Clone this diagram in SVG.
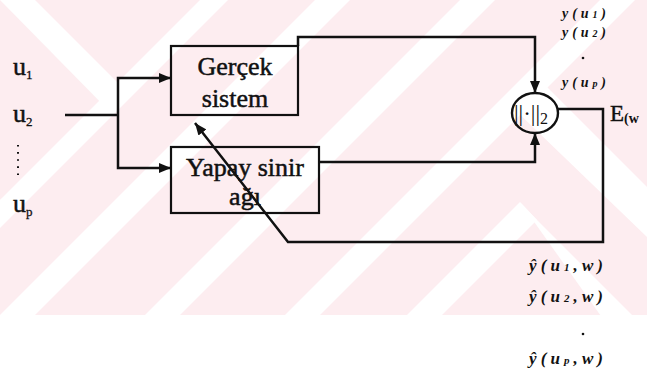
<svg xmlns="http://www.w3.org/2000/svg" width="647" height="373" viewBox="0 0 647 373">
  <defs>
    <marker id="arrow" viewBox="0 0 12 10" refX="12" refY="5" markerWidth="12" markerHeight="10" markerUnits="userSpaceOnUse" orient="auto">
      <path d="M0,0 L12,5 L0,10 Z" fill="#111"/>
    </marker>
    <clipPath id="band">
      <rect x="0" y="0" width="647" height="315"/>
    </clipPath>
  </defs>
  <style>
    .line { fill: none; stroke: #111; stroke-width: 2.5; stroke-linejoin: miter; }
    .box { fill: none; stroke: #111; stroke-width: 2.2; }
    .lbl { font-family: "Liberation Serif", "Times New Roman", serif; fill: #111; }
    .big { font-size: 26px; text-anchor: middle; stroke: #111; stroke-width: 0.5; }
    .io { font-size: 26px; stroke: #111; stroke-width: 0.5; }
    .sig { font-size: 17px; font-style: italic; font-weight: bold; }
    .sig-s { font-size: 14px; font-style: italic; font-weight: bold; }
    .stripe { fill: #ffffff; }
  </style>

  <!-- page background with pale striped band -->
  <rect x="0" y="0" width="647" height="373" fill="#ffffff"/>
  <g id="backdrop" clip-path="url(#band)">
    <rect x="0" y="0" width="647" height="315" fill="#fdedf0"/>
    <polygon class="stripe" points="0,0 35,0 130,95 112,114"/>
    <polygon class="stripe" points="112,114 130,95 0,225 0,200"/>
    <polygon class="stripe" points="200,0 228,0 0,228 0,200"/>
    <polygon class="stripe" points="315,0 350,0 35,315 0,315"/>
    <polygon class="stripe" points="460,0 495,0 180,315 145,315"/>
    <polygon class="stripe" points="600,0 635,0 320,315 285,315"/>
    <polygon class="stripe" points="505,100 540,80 647,187 647,237"/>
    <polygon class="stripe" points="520,202 537,220 432,325 397,325"/>
    <polygon class="stripe" points="520,202 537,220 643,326 608,326"/>
  </g>

  <!-- input labels -->
  <g id="inputs" class="lbl">
    <text class="io" x="13" y="75">u<tspan font-size="13" stroke-width="0.3" dy="4">1</tspan></text>
    <text class="io" x="13" y="122">u<tspan font-size="13" stroke-width="0.3" dy="4">2</tspan></text>
    <line x1="18" y1="145" x2="18" y2="178" stroke="#111" stroke-width="2" stroke-dasharray="1.6 5.5"/>
    <text class="io" x="13" y="212">u<tspan font-size="13" stroke-width="0.3" dy="4">p</tspan></text>
  </g>

  <!-- process blocks -->
  <g id="gercek-sistem">
    <rect class="box" x="171" y="46" width="127" height="69"/>
    <text class="lbl big" x="235" y="75">Gerçek</text>
    <text class="lbl big" x="235" y="107">sistem</text>
  </g>
  <g id="yapay-sinir-agi">
    <rect class="box" x="171" y="147" width="148" height="66"/>
    <text class="lbl big" x="245" y="176">Yapay sinir</text>
    <text class="lbl big" x="245" y="205">ağı</text>
  </g>

  <!-- norm / comparison node -->
  <g id="norm">
    <ellipse cx="535" cy="113" rx="23" ry="20" fill="none" stroke="#111" stroke-width="2.4"/>
    <text class="lbl" x="531" y="121" font-size="23" text-anchor="middle">||·||<tspan font-size="16" dy="3">2</tspan></text>
  </g>

  <!-- signal labels -->
  <g id="labels" class="lbl">
    <text class="sig-s" x="562" y="18" textLength="44" lengthAdjust="spacing">y(u<tspan font-size="10">1</tspan>)</text>
    <text class="sig-s" x="562" y="37" textLength="44" lengthAdjust="spacing">y(u<tspan font-size="10">2</tspan>)</text>
    <circle cx="583" cy="58" r="1.3" fill="#111"/>
    <text class="sig-s" x="562" y="87" textLength="44" lengthAdjust="spacing">y(u<tspan font-size="10">p</tspan>)</text>
    <text x="610" y="121" font-size="23" stroke="#111" stroke-width="0.4">E<tspan font-size="14" font-weight="bold" stroke-width="0" dy="2">(w</tspan></text>
    <text class="sig" x="529" y="271" textLength="74" lengthAdjust="spacing">ŷ(u<tspan font-size="11">1</tspan>,w)</text>
    <text class="sig" x="529" y="302" textLength="74" lengthAdjust="spacing">ŷ(u<tspan font-size="11">2</tspan>,w)</text>
    <circle cx="583" cy="334" r="1.3" fill="#111"/>
    <text class="sig" x="529" y="364" textLength="74" lengthAdjust="spacing">ŷ(u<tspan font-size="11">p</tspan>,w)</text>
  </g>

  <!-- connectors -->
  <g id="connectors">
    <polyline class="line" points="65,115 118,115"/>
    <polyline class="line" points="118,115 118,78 171,78" marker-end="url(#arrow)"/>
    <polyline class="line" points="118,115 118,168 171,168" marker-end="url(#arrow)"/>
    <polyline class="line" points="298,46 298,37 535,37 535,93" marker-end="url(#arrow)"/>
    <polyline class="line" points="319,162 535,162 535,133" marker-end="url(#arrow)"/>
    <polyline class="line" points="558,109 603,109 603,242 288,242 195,123" marker-end="url(#arrow)"/>
  </g>
</svg>
